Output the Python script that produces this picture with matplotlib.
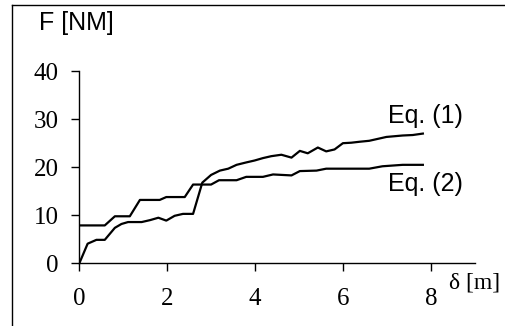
import matplotlib
matplotlib.use("Agg")
import matplotlib.pyplot as plt
from matplotlib.lines import Line2D

# Eq. (1) curve
x_eq1 = [0.0, 0.19, 0.39, 0.58, 0.81, 0.96, 1.11, 1.42, 1.61, 1.80, 1.98, 2.17, 2.36,
         2.59, 2.80, 3.00, 3.20, 3.39, 3.58, 3.80, 3.99, 4.18, 4.37, 4.60, 4.83, 5.02,
         5.20, 5.43, 5.62, 5.81, 6.00, 6.19, 6.38, 6.60, 6.99, 7.36, 7.59, 7.82]
y_eq1 = [0.0, 4.1, 4.9, 4.9, 7.4, 8.2, 8.6, 8.6, 9.0, 9.5, 8.9, 9.9, 10.3,
         10.3, 16.8, 18.4, 19.3, 19.7, 20.5, 21.0, 21.4, 21.9, 22.3, 22.6, 22.0, 23.4,
         22.9, 24.1, 23.3, 23.7, 25.0, 25.1, 25.3, 25.5, 26.3, 26.6, 26.7, 27.0]

# Eq. (2) curve
x_eq2 = [0.0, 0.58, 0.81, 1.15, 1.38, 1.83, 1.98, 2.40, 2.59, 3.00, 3.18, 3.58, 3.80,
         4.18, 4.41, 4.83, 5.02, 5.40, 5.62, 6.60, 6.90, 7.36, 7.82]
y_eq2 = [7.9, 7.9, 9.8, 9.8, 13.2, 13.2, 13.8, 13.8, 16.4, 16.4, 17.3, 17.3, 18.0,
         18.0, 18.5, 18.3, 19.2, 19.3, 19.7, 19.7, 20.2, 20.5, 20.5]

x_ticks = [0, 2, 4, 6, 8]
y_ticks = [0, 10, 20, 30, 40]

fig = plt.figure(figsize=(5.05, 3.26), dpi=100)
ax = fig.add_axes([0.157, 0.192, 0.783, 0.59])

ax.plot(x_eq1, y_eq1, color="black", lw=1.6)
ax.plot(x_eq2, y_eq2, color="black", lw=1.6)

ax.set_xlim(0, 9.0)
ax.set_ylim(0, 40)
ax.set_xticks(x_ticks)
ax.set_yticks(y_ticks)
for s in ["top", "right"]:
    ax.spines[s].set_visible(False)
for s in ["left", "bottom"]:
    ax.spines[s].set_linewidth(1.0)
ax.tick_params(direction="out", length=6, width=1.0, labelsize=18)
ax.tick_params(axis="x", pad=12)
ax.tick_params(axis="y", pad=9)
for lab in ax.get_xticklabels() + ax.get_yticklabels():
    lab.set_family("Liberation Serif")

ax.text(7.02, 30.7, "Eq. (1)", family="Liberation Sans", fontsize=18,
        ha="left", va="center")
ax.text(7.02, 16.5, "Eq. (2)", family="Liberation Sans", fontsize=18,
        ha="left", va="center")

fig.text(39 / 505, 1 - 23 / 326, "F [NM]", family="Liberation Sans", fontsize=18,
         ha="left", va="center")
fig.text(449 / 505, 1 - 283 / 326, "δ [m]", family="Liberation Serif", fontsize=17,
         ha="left", va="center")

# outer frame (left and top edges visible)
fig.add_artist(Line2D([11.5 / 505, 11.5 / 505], [0, 1 - 5 / 326], color="black",
                      lw=1.0, transform=fig.transFigure))
fig.add_artist(Line2D([11.5 / 505, 1], [1 - 5 / 326, 1 - 5 / 326], color="black",
                      lw=1.0, transform=fig.transFigure))

fig.savefig("out.png", dpi=100)
